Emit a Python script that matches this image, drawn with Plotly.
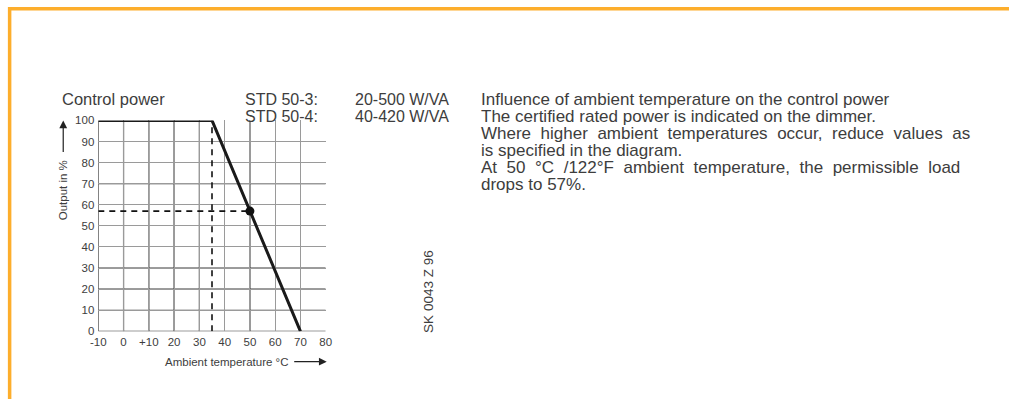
import plotly.graph_objects as go

# The page body keeps its default 8px margin and the captured page area is
# 16px wider/taller than the final picture, so layout positions are given in
# final-picture pixels and converted through this scale and offset.
OUT_W, OUT_H = 1009, 399
BODY = 8
SX = OUT_W / (OUT_W + 2 * BODY)
SY = OUT_H / (OUT_H + 2 * BODY)
W, H = OUT_W + BODY, OUT_H + BODY

# Derating curve: output vs ambient temperature
temp_c = [-10, 35, 70]
output_pct = [100, 100, 0]

# Reading point at 50 °C
mark_temp = [50]
mark_out = [57]
knee_temp = 35

# Grid
x_ticks = [-10, 0, 10, 20, 30, 40, 50, 60, 70, 80]
x_ticktext = ["-10", "0", "+10", "20", "30", "40", "50", "60", "70", "80"]
y_ticks = [0, 10, 20, 30, 40, 50, 60, 70, 80, 90, 100]
x_dark = [-10, 0, 10, 20, 30, 50]
y_dark = [0, 10, 20, 30, 70]

note_lines = [
    "Influence of ambient temperature on the control power",
    "The certified rated power is indicated on the dimmer.",
    "Where higher ambient temperatures occur, reduce values as",
    "is specified in the diagram.",
    "At 50 °C /122°F ambient temperature, the permissible load",
    "drops to 57%.",
]
# extra word gap so the full paragraph lines come out justified
note_gap = ["", "", "\u2009\u200a", "", "\u2009\u200a", ""]


def px(x):
    return (x / SX - BODY) / W


def py(y):
    return 1 - (y / SY - BODY) / H


TXT = "#3d3d3d"
FONT = "Liberation Sans, Arial, sans-serif"
ORANGE = "#FDAE2C"

fig = go.Figure()

# dashed guide lines
fig.add_trace(go.Scatter(x=[x_ticks[0], mark_temp[0]], y=[mark_out[0], mark_out[0]],
                         mode="lines", line=dict(color="#111", width=1.6, dash="6px,5px"),
                         hoverinfo="skip"))
fig.add_trace(go.Scatter(x=[knee_temp, knee_temp], y=[0, 100],
                         mode="lines", line=dict(color="#111", width=1.6, dash="6px,5px"),
                         hoverinfo="skip"))
# derating curve
fig.add_trace(go.Scatter(x=temp_c, y=output_pct, mode="lines",
                         line=dict(color="#1a1a1a", width=3), hoverinfo="skip",
                         cliponaxis=False))
fig.add_trace(go.Scatter(x=mark_temp, y=mark_out, mode="markers",
                         marker=dict(color="#111", size=9), hoverinfo="skip"))

shapes = []
for xv in x_dark:
    shapes.append(dict(type="line", xref="x", yref="y", x0=xv, x1=xv, y0=0, y1=100,
                       line=dict(color="#3a3a3a", width=1.2), layer="below"))
for yv in y_dark:
    shapes.append(dict(type="line", xref="x", yref="y", x0=-10, x1=80, y0=yv, y1=yv,
                       line=dict(color="#3a3a3a", width=1.2), layer="below"))

# orange frame along top and left
shapes.append(dict(type="line", xref="paper", yref="paper", x0=px(8), x1=1.0,
                   y0=py(10.5), y1=py(10.5), line=dict(color=ORANGE, width=3.5)))
shapes.append(dict(type="line", xref="paper", yref="paper", x0=px(9.5), x1=px(9.5),
                   y0=py(8.8), y1=0, line=dict(color=ORANGE, width=3.5)))

ann = []


def text(x, y, s, size=16.5, xanchor="left", angle=0):
    ann.append(dict(x=px(x), y=py(y), xref="paper", yref="paper", text=s, showarrow=False,
                    xanchor=xanchor, yanchor="middle", textangle=angle,
                    font=dict(family=FONT, size=size, color=TXT)))


text(60, 100, "Control power")
text(242, 100, "STD 50-3:", size=16)
text(242, 117, "STD 50-4:", size=16)
text(352, 100, "20-500 W/VA", size=16)
text(352, 117, "40-420 W/VA", size=16)
for i, (line, extra) in enumerate(zip(note_lines, note_gap)):
    text(478, 100 + i * 17, (" " + extra).join(line.split(" ")), size=17)

text(428, 290, "SK 0043 Z 96", size=13.5, xanchor="center", angle=-90)

# axis titles with arrows
text(63, 190, "Output in %", size=11.5, xanchor="center", angle=-90)
ann.append(dict(x=px(63), y=py(121), xref="paper", yref="paper", ax=0, ay=33,
                axref="pixel", ayref="pixel", text="", showarrow=True, arrowhead=2,
                arrowsize=1.3, arrowwidth=1.2, arrowcolor="#222"))
text(290, 360, "Ambient temperature °C", size=11.5, xanchor="right")
ann.append(dict(x=px(326), y=py(360), xref="paper", yref="paper", ax=-34, ay=0,
                axref="pixel", ayref="pixel", text="", showarrow=True, arrowhead=2,
                arrowsize=1.3, arrowwidth=1.2, arrowcolor="#222"))

fig.update_layout(
    width=W, height=H, margin=dict(l=0, r=0, t=0, b=0),
    paper_bgcolor="white", plot_bgcolor="white", showlegend=False,
    shapes=shapes, annotations=ann,
    xaxis=dict(domain=[px(98), px(325)], range=[-10, 80], tickvals=x_ticks,
               ticktext=x_ticktext, showgrid=True, gridcolor="#9a9a9a", gridwidth=1.2,
               zeroline=False, showline=False, ticks="", ticklabelstandoff=2,
               tickfont=dict(family=FONT, size=11.5, color=TXT)),
    yaxis=dict(domain=[py(330), py(121)], range=[0, 100], tickvals=y_ticks,
               showgrid=True, gridcolor="#9a9a9a", gridwidth=1.2, zeroline=False,
               showline=False, ticks="", ticklabelstandoff=3,
               tickfont=dict(family=FONT, size=11.5, color=TXT)),
)

fig.write_html("out.html", config={"displayModeBar": False})
